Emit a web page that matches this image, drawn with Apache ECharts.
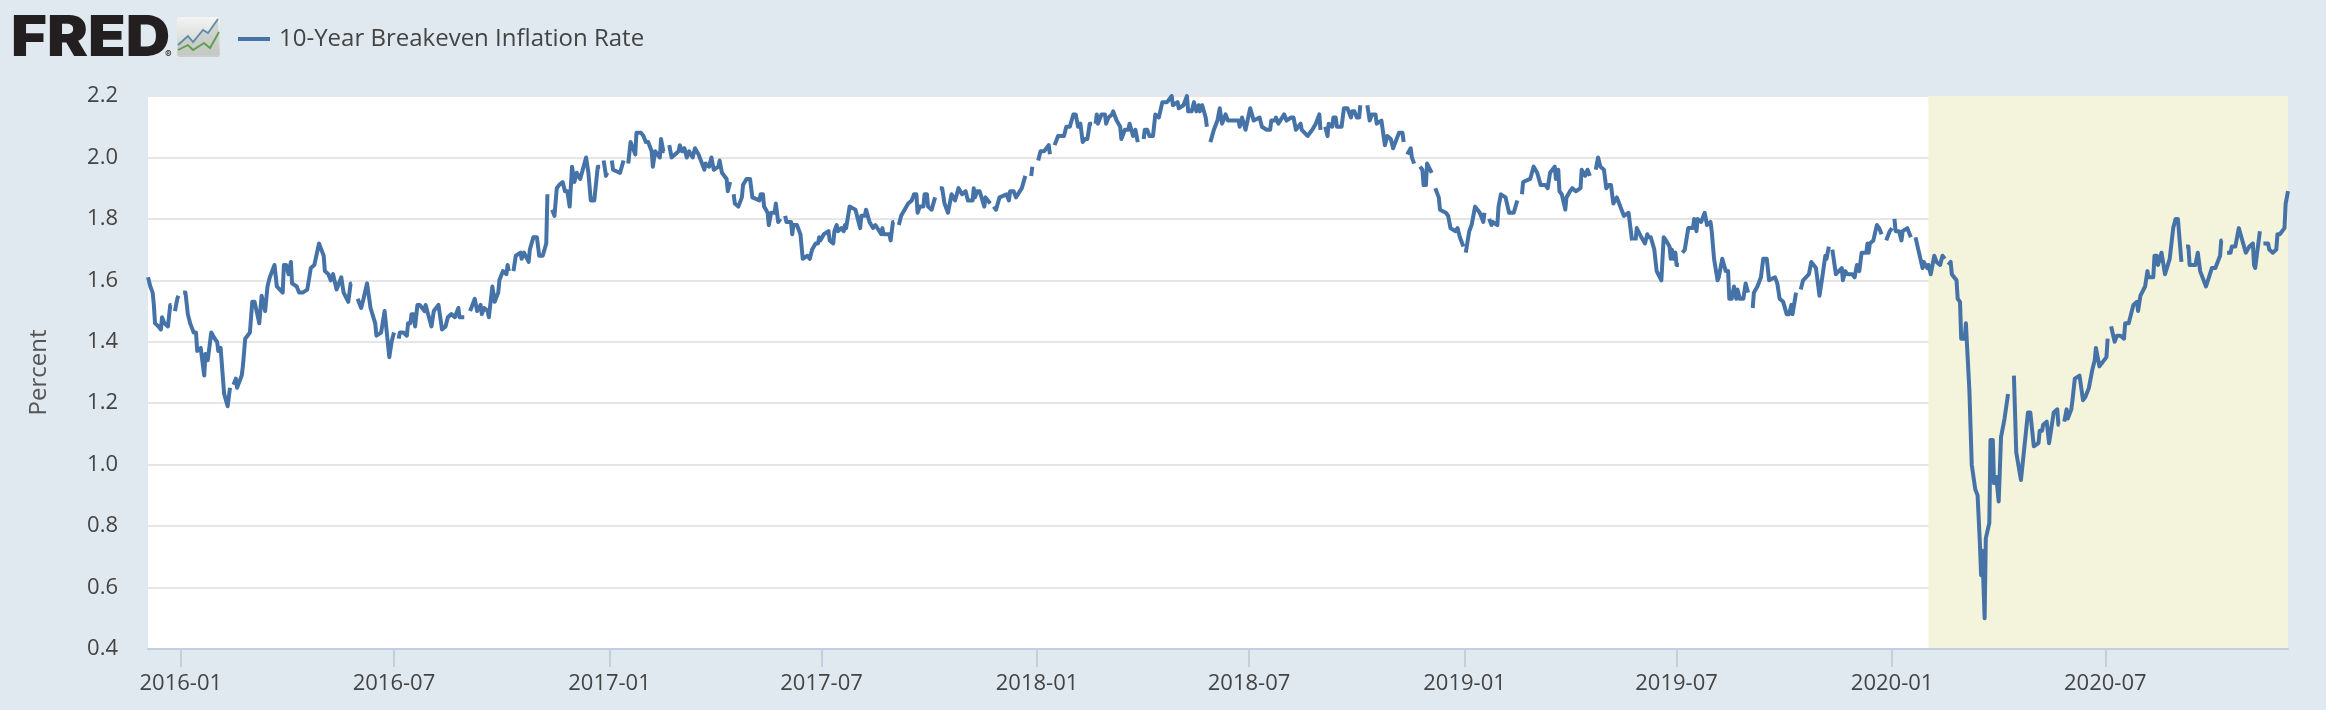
<!DOCTYPE html>
<html><head><meta charset="utf-8">
<style>html,body{margin:0;padding:0;background:#e1e9f0}#c{width:2326px;height:710px}</style>
<script src="https://cdn.jsdelivr.net/npm/echarts@6/dist/echarts.min.js"></script>
</head><body><div id="c"></div>
<script>
const seriesName = '10-Year Breakeven Inflation Rate';
const axisTitle = 'Percent';
const startDate = '2015-12-04';
const endDate = '2020-12-04';
const recessionStart = '2020-02-01';
const yTicks = {min: 0.4, max: 2.2, step: 0.2};
const xTickDates = ['2016-01-01','2016-07-01','2017-01-01','2017-07-01','2018-01-01','2018-07-01','2019-01-01','2019-07-01','2020-01-01','2020-07-01'];
// [days since startDate, percent]; null marks a missing observation
const period1 = [[0,1.61],[2,1.58],[4,1.56],[5,1.52],[6,1.46],[9,1.45],[11,1.44],[12,1.48],[14,1.46],[17,1.45],[19,1.52],[20,1.52],[21,null],[23,1.50],[25,1.54],[26,1.55],[28,null],[30,1.56],[32,1.56],[34,1.49],[36,1.46],[39,1.43],[41,1.43],[42,1.37],[45,1.38],[48,1.29],[49,1.36],[51,1.34],[54,1.43],[57,1.41],[59,1.40],[60,1.37],[62,1.38],[63,1.33],[65,1.23],[68,1.19],[70,1.25],[71,null],[73,1.26],[75,1.28],[76,1.25],[80,1.29],[81,1.32],[83,1.41],[87,1.43],[89,1.53],[91,1.53],[95,1.46],[97,1.55],[100,1.50],[102,1.58],[104,1.61],[108,1.65],[110,1.58],[115,1.56],[116,1.65],[118,1.65],[120,1.62],[122,1.66],[123,1.59],[127,1.58],[129,1.56],[132,1.56],[136,1.57],[139,1.64],[142,1.65],[146,1.72],[148,1.70],[150,1.68],[151,1.63],[154,1.62],[156,1.60],[158,1.62],[159,1.62],[161,1.57],[165,1.61],[166,1.61],[167,1.56],[171,1.53],[173,1.59],[174,1.59],[176,null],[179,1.54],[182,1.51],[184,1.54],[187,1.59],[188,1.59],[190,1.51],[194,1.46],[195,1.42],[199,1.43],[202,1.50],[203,1.50],[206,1.35],[208,1.40],[210,1.43],[212,null],[214,1.41],[215,1.43],[218,1.43],[221,1.42],[222,1.46],[224,1.46],[225,1.49],[227,1.49],[228,1.45],[230,1.52],[232,1.52],[236,1.50],[237,1.52],[242,1.45],[244,1.50],[248,1.52],[251,1.44],[254,1.45]];
const period2 = [[256,1.48],[259,1.49],[262,1.48],[265,1.51],[266,1.48],[270,1.48],[272,null],[275,1.50],[279,1.54],[281,1.50],[284,1.52],[285,1.49],[287,1.51],[290,1.50],[291,1.48],[294,1.58],[296,1.53],[299,1.56],[300,1.60],[303,1.63],[306,1.62],[307,1.65],[308,1.63],[310,null],[312,1.63],[314,1.68],[318,1.69],[319,1.67],[321,1.69],[325,1.66],[326,1.70],[329,1.74],[332,1.74],[334,1.68],[337,1.68],[340,1.72],[341,1.88],[343,null],[345,1.83],[347,1.81],[349,1.90],[351,1.91],[354,1.92],[356,1.89],[358,1.89],[360,1.84],[362,1.97],[364,1.92],[366,1.95],[369,1.93],[374,2.00],[376,1.95],[378,1.86],[381,1.86],[384,1.97],[386,1.97],[387,null],[389,1.99],[391,1.94],[392,1.95],[394,null],[396,1.99],[397,1.96],[403,1.95],[406,1.99],[408,null],[410,1.98],[412,2.05],[413,2.05],[416,2.01],[417,2.08],[421,2.08],[423,2.07],[425,2.05],[427,2.05],[430,2.02],[431,1.97],[432,1.97],[433,2.02],[437,2.00],[438,2.06],[440,2.02],[441,2.02],[443,null],[445,2.04],[447,2.00],[453,2.02],[454,2.04],[456,2.02],[458,2.03],[460,2.00],[462,2.02],[465,2.00],[467,2.03],[470,2.01],[475,1.96],[476,1.98],[479,1.97],[481,2.00],[483,1.96],[487,1.97],[488,1.99],[490,1.95],[494,1.93],[495,1.89],[497,1.92],[499,null],[500,1.88],[501,1.85],[504,1.84],[507,1.87],[508,1.91],[511,1.93]];
const period3 = [[514,1.93],[516,1.87],[522,1.86],[523,1.88],[525,1.88],[526,1.84],[529,1.82],[530,1.78],[531,1.78],[532,1.82],[535,1.82],[536,1.85],[538,1.79],[540,1.80],[542,null],[544,1.81],[545,1.79],[549,1.79],[550,1.75],[551,1.78],[554,1.78],[557,1.75],[559,1.67],[563,1.68],[565,1.67],[567,1.70],[570,1.72],[572,1.72],[573,1.74],[574,1.73],[577,1.75],[581,1.76],[582,1.73],[585,1.72],[586,1.76],[588,1.78],[589,1.76],[592,1.77],[594,1.76],[595,1.78],[596,1.77],[599,1.84],[604,1.83],[606,1.80],[608,1.77],[609,1.81],[612,1.81],[613,1.83],[614,1.83],[616,1.79],[619,1.77],[621,1.78],[626,1.75],[627,1.77],[628,1.75],[633,1.75],[634,1.73],[636,1.79],[637,1.79],[639,null],[641,1.78],[643,1.81],[649,1.85],[652,1.86],[654,1.88],[656,1.88],[657,1.82],[659,1.84],[662,1.84],[663,1.88],[665,1.88],[666,1.84],[669,1.83],[672,1.87],[674,null],[676,1.90],[678,1.90],[680,1.85],[683,1.82],[684,1.82],[686,1.88],[689,1.86],[692,1.90],[695,1.88],[698,1.89],[700,1.86],[704,1.86],[705,1.90],[706,1.87],[708,1.89],[710,1.89],[714,1.84],[715,1.87],[719,1.85],[721,null],[722,1.84],[724,1.83],[727,1.87],[733,1.88],[735,1.86],[736,1.89],[739,1.89],[741,1.87],[746,1.90],[749,1.94],[751,null],[754,1.94],[755,1.97],[757,null],[760,1.99],[762,2.02],[765,2.02],[767,2.03]];
const period4 = [[769,2.04],[770,2.01],[772,null],[774,2.04],[777,2.07],[782,2.07],[784,2.10],[787,2.10],[790,2.14],[792,2.14],[794,2.10],[796,2.11],[798,2.05],[800,2.06],[802,2.06],[804,2.11],[806,2.11],[808,null],[809,2.11],[810,2.14],[811,2.11],[814,2.14],[817,2.14],[818,2.11],[819,2.11],[820,2.13],[823,2.14],[824,2.15],[827,2.12],[830,2.10],[831,2.06],[834,2.09],[837,2.09],[838,2.11],[841,2.07],[843,2.09],[845,2.05],[847,null],[850,2.06],[851,2.09],[853,2.09],[855,2.07],[858,2.07],[860,2.14],[863,2.13],[866,2.18],[870,2.18],[874,2.20],[875,2.17],[879,2.18],[880,2.16],[884,2.17],[887,2.20],[888,2.15],[891,2.15],[893,2.18],[895,2.15],[897,2.17],[898,2.15],[900,2.17],[903,2.13],[904,2.10],[905,null],[907,2.05],[910,2.09],[913,2.12],[915,2.16],[917,2.11],[920,2.14],[922,2.12],[931,2.12],[932,2.10],[934,2.13],[937,2.09],[941,2.16],[944,2.12],[949,2.13],[951,2.10],[955,2.09],[958,2.09],[959,2.12],[962,2.12],[963,2.13],[965,2.11],[970,2.14],[972,2.12],[976,2.13],[978,2.13],[980,2.09],[984,2.11],[985,2.09],[990,2.07],[994,2.09],[997,2.11],[1000,2.14],[1001,2.09],[1003,null],[1005,2.10],[1007,2.07],[1008,2.11],[1011,2.10],[1012,2.13],[1014,2.13],[1015,2.10],[1019,2.10],[1021,2.16],[1024,2.16]];
const period5 = [[1025,2.16],[1027,2.13],[1028,2.15],[1030,2.15],[1032,2.13],[1034,2.13],[1035,2.17],[1037,null],[1041,2.17],[1043,2.12],[1045,2.14],[1048,2.14],[1049,2.11],[1053,2.12],[1056,2.04],[1058,2.07],[1061,2.06],[1063,2.03],[1064,2.03],[1066,2.06],[1068,2.08],[1071,2.08],[1072,2.05],[1074,null],[1075,2.01],[1078,2.03],[1079,2.00],[1081,1.98],[1083,null],[1086,1.97],[1088,1.96],[1089,1.91],[1091,1.91],[1092,1.98],[1093,1.98],[1096,1.95],[1097,null],[1099,1.90],[1102,1.87],[1103,1.83],[1108,1.82],[1110,1.81],[1112,1.77],[1116,1.76],[1118,1.77],[1120,1.74],[1123,1.71],[1124,null],[1125,1.69],[1126,1.69],[1128,1.76],[1130,1.78],[1133,1.84],[1137,1.82],[1140,1.79],[1141,1.82],[1143,null],[1145,1.80],[1147,1.78],[1148,1.79],[1152,1.78],[1153,1.84],[1155,1.88],[1159,1.87],[1162,1.82],[1166,1.82],[1169,1.86],[1171,null],[1173,1.88],[1174,1.92],[1180,1.93],[1183,1.97],[1186,1.95],[1189,1.91],[1193,1.91],[1195,1.90],[1197,1.95],[1201,1.97],[1202,1.93],[1204,1.96],[1205,1.89],[1207,1.88],[1210,1.83],[1211,1.87],[1214,1.89],[1216,1.90],[1219,1.89],[1223,1.90],[1224,1.96],[1227,1.94],[1229,1.96],[1231,1.94],[1233,null],[1236,1.96],[1238,2.00],[1240,1.97],[1243,1.96],[1245,1.90],[1247,1.91],[1249,1.91],[1251,1.85],[1254,1.87],[1256,1.85],[1258,1.83],[1260,1.81],[1264,1.82],[1267,1.73],[1268,null],[1270,1.73],[1271,1.77],[1275,1.74],[1278,1.72],[1280,1.75]];
const period6 = [[1281,1.74],[1283,1.74],[1286,1.70],[1288,1.63],[1292,1.60],[1294,1.74],[1296,1.73],[1299,1.71],[1300,1.67],[1301,1.70],[1302,1.67],[1304,1.69],[1305,1.65],[1307,1.65],[1308,null],[1310,1.69],[1312,1.70],[1315,1.77],[1319,1.77],[1320,1.80],[1322,1.76],[1323,1.80],[1326,1.79],[1329,1.82],[1331,1.78],[1334,1.79],[1335,1.76],[1337,1.67],[1340,1.60],[1341,1.61],[1344,1.67],[1347,1.63],[1349,1.63],[1350,1.54],[1352,1.54],[1354,1.58],[1356,1.54],[1357,1.57],[1359,1.54],[1362,1.54],[1364,1.59],[1366,1.56],[1368,null],[1370,1.51],[1371,1.56],[1374,1.58],[1377,1.61],[1379,1.67],[1382,1.67],[1384,1.60],[1389,1.61],[1391,1.59],[1393,1.54],[1396,1.53],[1399,1.49],[1401,1.49],[1403,1.52],[1404,1.49],[1407,1.56],[1409,null],[1411,1.57],[1413,1.60],[1418,1.62],[1420,1.66],[1424,1.64],[1427,1.55],[1429,1.60],[1432,1.68],[1433,1.67],[1435,1.71],[1437,null],[1438,1.70],[1441,1.62],[1446,1.64],[1447,1.60],[1449,1.63],[1451,1.62],[1455,1.62],[1457,1.61],[1459,1.65],[1461,1.63],[1463,1.69],[1467,1.69],[1468,1.72],[1469,1.69],[1470,1.72],[1473,1.73],[1476,1.78],[1478,1.77],[1480,1.75],[1482,null],[1484,1.73],[1487,1.76],[1489,1.77],[1490,null],[1491,1.80],[1492,1.76],[1495,1.76],[1497,1.73],[1498,1.76],[1502,1.77],[1503,1.77],[1505,1.74],[1507,null],[1509,1.74],[1512,1.69],[1515,1.64],[1516,1.66],[1519,1.64],[1520,1.65],[1522,1.62],[1525,1.68],[1527,1.66],[1530,1.65],[1532,1.68],[1534,1.67],[1535,null]];
const period7 = [[1537,1.65],[1539,1.66],[1540,1.62],[1544,1.60],[1545,1.54],[1547,1.53],[1548,1.41],[1551,1.41],[1552,1.46],[1553,1.46],[1555,1.24],[1557,1.00],[1558,1.00],[1560,0.92],[1562,0.90],[1564,0.74],[1565,0.64],[1566,0.72],[1568,0.50],[1569,0.76],[1572,0.81],[1573,1.08],[1575,1.08],[1576,0.94],[1578,0.96],[1580,0.88],[1581,0.88],[1582,1.09],[1585,1.15],[1588,1.23],[1590,null],[1593,1.29],[1595,1.04],[1599,0.95],[1600,0.95],[1602,1.06],[1605,1.17],[1607,1.17],[1610,1.06],[1614,1.07],[1615,1.11],[1617,1.11],[1618,1.13],[1621,1.14],[1623,1.07],[1624,1.07],[1627,1.17],[1630,1.18],[1631,1.13],[1632,1.13],[1634,null],[1636,1.14],[1638,1.18],[1639,1.15],[1642,1.18],[1643,1.21],[1645,1.28],[1649,1.29],[1652,1.21],[1654,1.22],[1657,1.25],[1660,1.31],[1662,1.34],[1663,1.38],[1666,1.32],[1672,1.35],[1673,1.41],[1675,null],[1676,1.45],[1679,1.40],[1681,1.42],[1684,1.42],[1687,1.41],[1688,1.46],[1691,1.46],[1693,1.49],[1695,1.52],[1698,1.53],[1699,1.50],[1701,1.55],[1705,1.58],[1707,1.63],[1708,1.61],[1712,1.61],[1713,1.68],[1715,1.68],[1716,1.65],[1719,1.69],[1722,1.62],[1726,1.67],[1729,1.77],[1731,1.80],[1733,1.80],[1736,1.66],[1737,null],[1740,1.71],[1742,1.71],[1743,1.65],[1748,1.65],[1750,1.69],[1752,1.63],[1757,1.58],[1758,1.58],[1762,1.64],[1765,1.64],[1769,1.68],[1770,1.73],[1771,1.73],[1773,null],[1775,1.69],[1778,1.69],[1779,1.71],[1782,1.71],[1785,1.77],[1791,1.69],[1794,1.71],[1797,1.72],[1798,1.65],[1799,1.64],[1803,1.76],[1805,null],[1806,1.72],[1810,1.72],[1811,1.70],[1814,1.69],[1817,1.70],[1818,1.75],[1820,1.75],[1824,1.77],[1825,1.85],[1827,1.89]];

const DAY = 86400000;
const t0 = Date.parse(startDate + 'T00:00:00Z');
const toUtc = s => Date.parse(s + 'T00:00:00Z');
const rows = [].concat(period1, period2, period3, period4, period5, period6, period7)
  .map(r => [t0 + r[0] * DAY, r[1]]);
const tickValues = xTickDates.map(toUtc);
const textFont = '"Open Sans", "Noto Sans", sans-serif';

const chart = echarts.init(document.getElementById('c'), null, {renderer: 'canvas'});
chart.setOption({
  animation: false,
  backgroundColor: '#e1e9f0',
  grid: {left: 148, right: 38, top: 96, bottom: 61, show: true, backgroundColor: '#ffffff', borderWidth: 0},
  legend: {
    data: [seriesName], left: 233, top: 22, icon: 'rect', itemWidth: 32, itemHeight: 4, itemGap: 8,
    textStyle: {fontFamily: textFont, fontSize: 24, color: '#444444', padding: [0, 0, 0, 4]}
  },
  xAxis: {
    type: 'value', min: toUtc(startDate), max: toUtc(endDate), z: 1,
    splitLine: {show: false},
    axisLine: {lineStyle: {color: '#c0d0e0', width: 2}},
    axisTick: {show: true, length: 18, customValues: tickValues, lineStyle: {color: '#c0d0e0', width: 2}},
    axisLabel: {
      customValues: tickValues, margin: 24, hideOverlap: false,
      fontFamily: textFont, fontSize: 22, color: '#444444',
      formatter: v => new Date(v).toISOString().slice(0, 7)
    }
  },
  yAxis: {
    type: 'value', min: yTicks.min, max: yTicks.max, interval: yTicks.step, z: 1,
    name: axisTitle, nameLocation: 'middle', nameGap: 97,
    nameTextStyle: {fontFamily: textFont, fontSize: 24, color: '#555555'},
    axisLine: {show: false}, axisTick: {show: false},
    axisLabel: {margin: 30, padding: [3, 0, 0, 0], fontFamily: textFont, fontSize: 22, color: '#444444', formatter: v => v.toFixed(1)},
    splitLine: {lineStyle: {color: '#e6e6e6', width: 2}}
  },
  series: [
    {
      name: 'Recession', type: 'line', z: 0, data: [], silent: true,
      markArea: {silent: true, itemStyle: {color: '#f4f3dc'},
        data: [[{xAxis: toUtc(recessionStart)}, {xAxis: toUtc(endDate)}]]}
    },
    {
      name: seriesName, type: 'line', z: 2, data: rows, showSymbol: false, connectNulls: false,
      sampling: 'none', lineStyle: {color: '#4572a7', width: 4, join: 'round'}, itemStyle: {color: '#4572a7'}
    }
  ],
  graphic: [
    {type: 'text', x: 11, y: 11, scaleX: 1.1, style: {text: 'FRED', fontFamily: 'Inter, "Liberation Sans", sans-serif', fontWeight: 900, fontSize: 56, fill: '#231f20'}},
    {type: 'text', x: 165, y: 50, style: {text: '®', fontFamily: 'Inter, sans-serif', fontSize: 10, fill: '#231f20'}},
    {type: 'rect', shape: {x: 177, y: 17, width: 43, height: 40, r: 3}, style: {fill: new echarts.graphic.LinearGradient(0, 0, 0, 1, [{offset: 0, color: '#f4f4f2'}, {offset: 1, color: '#c9cdc9'}])}},
    {type: 'polygon', shape: {points: [[178,45],[188,36],[193,42],[203,30],[208,33],[218,19],[219,55],[178,55]]}, style: {fill: 'rgba(190,195,190,0.55)'}},
    {type: 'polyline', shape: {points: [[178,45],[188,36],[193,42],[203,30],[208,33],[218,19]]}, style: {stroke: '#5d8cab', lineWidth: 1.8, fill: null}},
    {type: 'polyline', shape: {points: [[178,50],[188,45],[193,50],[204,43],[210,48],[219,32]]}, style: {stroke: '#5d9c48', lineWidth: 1.8, fill: null}}
  ]
});
</script></body></html>
